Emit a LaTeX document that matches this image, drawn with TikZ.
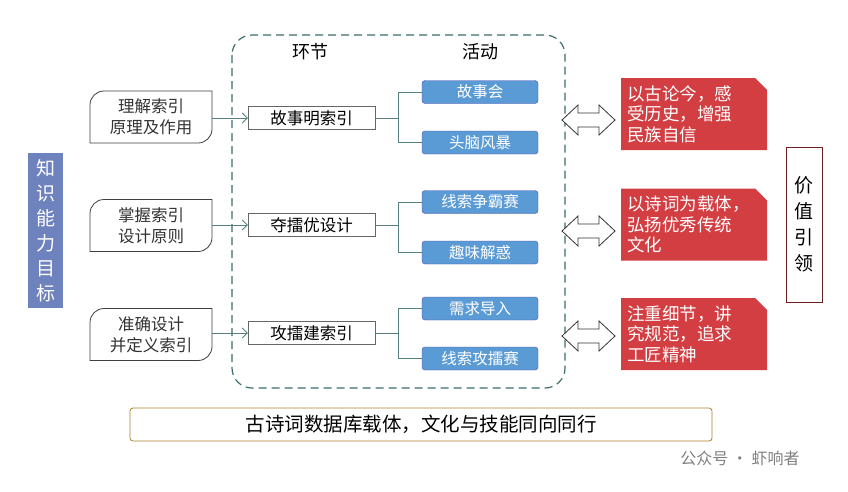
\documentclass[tikz,border=0pt]{standalone}
\usepackage{fontspec}
\setmainfont{Noto Sans CJK SC}
\usetikzlibrary{shapes.arrows,arrows.meta}
\definecolor{actblue}{RGB}{91,155,213}
\definecolor{redv}{RGB}{210,62,66}
\definecolor{kblue}{RGB}{110,130,190}
\definecolor{dkred}{RGB}{110,30,30}
\definecolor{gold}{RGB}{170,130,50}
\definecolor{frame}{RGB}{60,110,110}
\begin{document}
\begin{tikzpicture}[x=1pt,y=-1pt,
 stage/.style={draw=black!60,fill=white,minimum width=127pt,minimum height=23pt,inner sep=1pt,font=\fontsize{16.5}{18}\selectfont},
 act/.style={draw=blue!40!gray,fill=actblue,rounded corners=3pt,minimum width=116pt,minimum height=23pt,inner sep=1pt,font=\fontsize{15.5}{17}\selectfont,text=white},
 link/.style={draw=gray!70!teal,thick},
 dblarrow/.style={draw=black!80,thick,fill=white,line join=miter}]
\useasboundingbox (0,0) rectangle (848,491);
\fill[white] (0,0) rectangle (848,491);
\draw[very thick,draw=frame,dash pattern=on 8pt off 5pt,rounded corners=20pt] (232,35) rectangle (565,388);
\node[font=\fontsize{18}{20}\selectfont] (h1) at (310,52) {环节};
\node[font=\fontsize{18}{20}\selectfont] (h2) at (480,52) {活动};
\node[fill=kblue,text=white,minimum width=35pt,minimum height=155pt,align=center,font=\fontsize{19}{25}\selectfont] (kn) at (45.5,230.5) {知\\识\\能\\力\\目\\标};
\foreach \n/\y/\t in {g1/117/{理解索引\\原理及作用}, g2/225.5/{掌握索引\\设计原则}, g3/334.5/{准确设计\\并定义索引}}{
 \draw[black!75,thick,fill=white] (90,\y+26) -- (90,\y-12) to[out=90,in=180] (104,\y-26) -- (212,\y-26) -- (212,\y+12) to[out=-90,in=0] (198,\y+26) -- cycle;
 \node[align=center,font=\fontsize{16.5}{21}\selectfont,text=black!80] (\n) at (151,\y) {\t};
}
\node[stage] (s1) at (311.5,118) {故事明索引};
\node[stage] (s2) at (311.5,225) {夺擂优设计};
\node[stage] (s3) at (311.5,333) {攻擂建索引};
\draw[link,-{Straight Barb[length=5pt]}] (212,118) -- (s1.west);
\draw[link,-{Straight Barb[length=5pt]}] (212,225) -- (s2.west);
\draw[link,-{Straight Barb[length=5pt]}] (212,333) -- (s3.west);
\node[act] (a1) at (480,92) {故事会};
\node[act] (a2) at (480,142.5) {头脑风暴};
\node[act] (a3) at (480,202) {线索争霸赛};
\node[act] (a4) at (480,252.5) {趣味解惑};
\node[act] (a5) at (480,308.5) {需求导入};
\node[act] (a6) at (480,358.5) {线索攻擂赛};
\foreach \s/\a/\b in {s1/a1/a2,s2/a3/a4,s3/a5/a6}{
 \draw[link] (\s.east) -- ++(23,0);
 \draw[link] (\a.west) -| ([xshift=23pt]\s.east) |- (\b.west);
}
\foreach \y in {120,231,336}
 \draw[dblarrow] (562,\y) -- (578,\y-15) -- (578,\y-7) -- (599,\y-7) -- (599,\y-15) -- (615,\y) -- (599,\y+15) -- (599,\y+7) -- (578,\y+7) -- (578,\y+15) -- cycle;
\foreach \n/\y/\t in {v1/114/{以古论今，感\\受历史，增强\\民族自信}, v2/224.5/{以诗词为载体，\\弘扬优秀传统\\文化}, v3/334/{注重细节，讲\\究规范，追求\\工匠精神}}{
 \fill[redv] (621,\y-36) -- (755,\y-36) -- (767,\y-24) -- (767,\y+36) -- (621,\y+36) -- cycle;
 \node[text=white,align=left,font=\fontsize{17.5}{20.5}\selectfont,anchor=west,inner sep=0pt] (\n) at (627,\y) {\t};
}
\node[draw=dkred,thick,minimum width=36pt,minimum height=155pt,align=center,font=\fontsize{19}{26}\selectfont] (jz) at (804,224.5) {价\\值\\引\\领};
\node[draw=gold,thick,rounded corners=3pt,minimum width=582pt,minimum height=33pt,font=\fontsize{19.5}{22}\selectfont] (bt) at (421,424.5) {古诗词数据库载体，文化与技能同向同行};
\node[text=gray,font=\fontsize{16}{18}\selectfont] (wm) at (740,458) {公众号 · 虾响者};
\end{tikzpicture}
\end{document}
